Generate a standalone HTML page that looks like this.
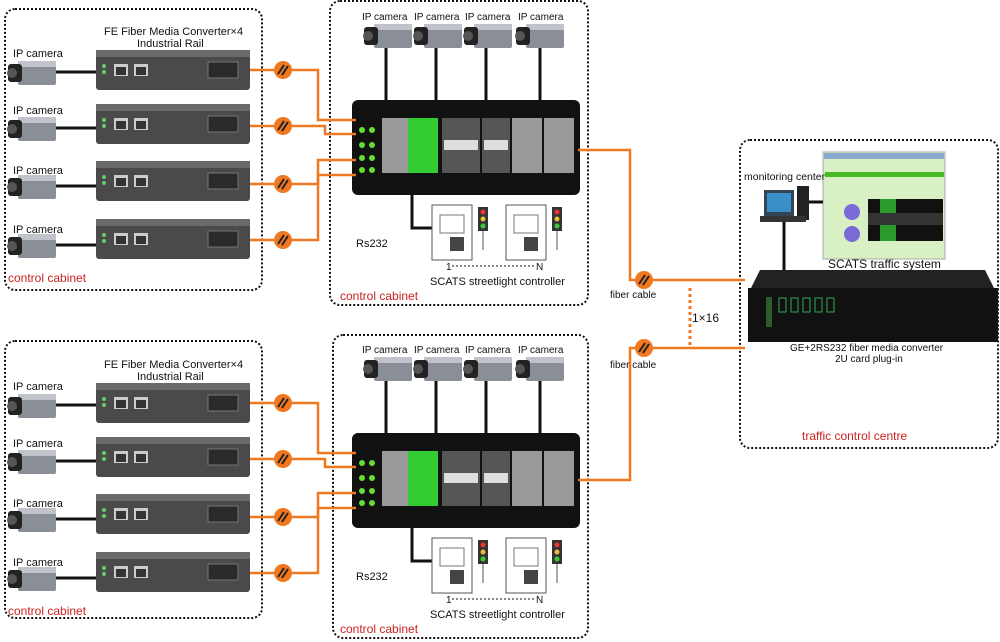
<!DOCTYPE html>
<html><head><meta charset="utf-8"><style>
html,body{margin:0;padding:0;background:#fff;}
svg{display:block;font-family:"Liberation Sans",sans-serif;}
</style></head><body>
<svg width="1000" height="642" viewBox="0 0 1000 642" xmlns="http://www.w3.org/2000/svg">
<defs>
<g id="cam">
 <rect x="10" y="0" width="38" height="24" rx="2" fill="#8a8e96"/>
 <rect x="10" y="0" width="38" height="6" fill="#c0c4ca"/>
 <rect x="0" y="3" width="14" height="18" rx="3" fill="#222"/>
 <circle cx="4" cy="12" r="5" fill="#555"/>
</g>
<g id="conv">
 <rect x="0" y="0" width="154" height="40" rx="3" fill="#4a4a4a"/>
 <rect x="0" y="0" width="154" height="7" fill="#6a6a6a"/>
 <rect x="18" y="14" width="14" height="12" fill="#ccc"/><rect x="38" y="14" width="14" height="12" fill="#ccc"/>
 <rect x="20" y="17" width="10" height="8" fill="#333"/><rect x="40" y="17" width="10" height="8" fill="#333"/>
 <rect x="112" y="12" width="30" height="16" fill="#2a2a2a" stroke="#777"/>
 <circle cx="8" cy="16" r="2" fill="#6c6"/><circle cx="8" cy="22" r="2" fill="#6c6"/>
</g>
<g id="fib">
 <circle cx="0" cy="0" r="9" fill="#f07820"/>
 <path d="M-5 4 L1 -5 M-1 5 L5 -4" stroke="#222" stroke-width="2"/>
</g>
<g id="sw">
 <rect x="0" y="0" width="228" height="95" rx="6" fill="#111"/>
 <rect x="30" y="18" width="26" height="55" fill="#999"/>
 <rect x="56" y="18" width="30" height="55" fill="#3c3"/>
 <rect x="90" y="18" width="38" height="55" fill="#555"/><rect x="130" y="18" width="28" height="55" fill="#555"/>
 <rect x="92" y="40" width="34" height="10" fill="#ddd"/><rect x="132" y="40" width="24" height="10" fill="#ddd"/>
 <rect x="160" y="18" width="30" height="55" fill="#999"/><rect x="192" y="18" width="30" height="55" fill="#999"/>
 <circle cx="10" cy="30" r="3" fill="#6d3"/><circle cx="20" cy="30" r="3" fill="#6d3"/>
 <circle cx="10" cy="45" r="3" fill="#6d3"/><circle cx="20" cy="45" r="3" fill="#6d3"/>
 <circle cx="10" cy="58" r="3" fill="#6d3"/><circle cx="20" cy="58" r="3" fill="#6d3"/>
 <circle cx="10" cy="70" r="3" fill="#6d3"/><circle cx="20" cy="70" r="3" fill="#6d3"/>
</g>
<g id="ctl">
 <rect x="0" y="0" width="40" height="55" fill="#fff" stroke="#555"/>
 <rect x="8" y="10" width="24" height="18" fill="none" stroke="#777"/>
 <rect x="18" y="32" width="14" height="14" fill="#444"/>
 <rect x="46" y="2" width="10" height="24" fill="#333"/>
 <circle cx="51" cy="7" r="2.5" fill="#e33"/><circle cx="51" cy="14" r="2.5" fill="#eb3"/><circle cx="51" cy="21" r="2.5" fill="#3c3"/>
 <path d="M51 26 V45" stroke="#555"/>
</g>
</defs>

<g fill="none" stroke="#111" stroke-width="2" stroke-dasharray="2 2">
 <rect x="5" y="9" width="257" height="281" rx="10"/>
 <rect x="330" y="1" width="258" height="304" rx="10"/>
 <rect x="5" y="341" width="257" height="277" rx="10"/>
 <rect x="333" y="335" width="255" height="303" rx="10"/>
 <rect x="740" y="140" width="258" height="308" rx="10"/>
</g>

<g id="cab">
 <g font-size="11" fill="#111">
  <text x="13" y="57">IP camera</text><text x="13" y="114">IP camera</text>
  <text x="13" y="174">IP camera</text><text x="13" y="233">IP camera</text>
  <text x="104" y="35">FE Fiber Media Converter×4</text><text x="137" y="47">Industrial Rail</text>
  <g font-size="10"><text x="362" y="20">IP camera</text><text x="414" y="20">IP camera</text>
  <text x="465" y="20">IP camera</text><text x="518" y="20">IP camera</text></g>
  <text x="356" y="247">Rs232</text>
  <text x="446" y="270" font-size="10">1</text><text x="536" y="270" font-size="10">N</text>
  <text x="430" y="285">SCATS streetlight controller</text>
 </g>
 <path d="M452 266 H535" stroke="#111" stroke-dasharray="2 2"/>
 <g font-size="12" fill="#c22"><text x="8" y="282">control cabinet</text><text x="340" y="300">control cabinet</text></g>
 <use href="#cam" x="8" y="61"/><use href="#cam" x="8" y="117"/><use href="#cam" x="8" y="175"/><use href="#cam" x="8" y="234"/>
 <use href="#cam" x="364" y="24"/><use href="#cam" x="414" y="24"/><use href="#cam" x="464" y="24"/><use href="#cam" x="516" y="24"/>
 <g stroke="#111" stroke-width="3" fill="none">
  <path d="M56 72 H96 M56 128 H96 M56 186 H96 M56 245 H96"/>
  <path d="M386 48 V100 M436 48 V100 M486 48 V100 M540 48 V100"/>
  <path d="M412 195 V228 H432"/>
 </g>
 <use href="#conv" x="96" y="50"/><use href="#conv" x="96" y="104"/><use href="#conv" x="96" y="161"/><use href="#conv" x="96" y="219"/>
 <use href="#sw" x="352" y="100"/>
 <use href="#ctl" x="432" y="205"/><use href="#ctl" x="506" y="205"/>
 <g stroke="#f07820" stroke-width="2.5" fill="none">
  <path d="M250 70 H318 V120 H356"/>
  <path d="M250 126 H325 V134 H356"/>
  <path d="M250 184 H318 V160 H356"/>
  <path d="M250 240 H318 V175 H356"/>
 </g>
 <use href="#fib" x="283" y="70"/><use href="#fib" x="283" y="126"/><use href="#fib" x="283" y="184"/><use href="#fib" x="283" y="240"/>
</g>
<use href="#cab" x="0" y="333"/>

<g stroke="#f07820" stroke-width="2.5" fill="none">
 <path d="M578 150 H630 V280 H745"/>
 <path d="M578 480 H630 V348 H745"/>
</g>
<path d="M690 288 V345" stroke="#f07820" stroke-width="3" stroke-dasharray="3 3"/>
<use href="#fib" x="644" y="280"/><use href="#fib" x="644" y="348"/>
<g font-size="10" fill="#111"><text x="610" y="298">fiber cable</text><text x="610" y="368">fiber cable</text></g>
<text x="692" y="322" font-size="12" fill="#111">1×16</text>

<rect x="823" y="152" width="122" height="107" fill="#d8f0c4" stroke="#aaa"/>
<rect x="824" y="153" width="120" height="6" fill="#8ac"/>
<rect x="825" y="172" width="119" height="5" fill="#4b2"/>
<rect x="868" y="199" width="75" height="42" fill="#111"/>
<rect x="880" y="199" width="16" height="42" fill="#2a9a2a"/><rect x="868" y="213" width="75" height="12" fill="#333"/>
<circle cx="852" cy="212" r="8" fill="#7a6ad8"/><circle cx="852" cy="234" r="8" fill="#7a6ad8"/>
<rect x="742" y="169" width="80" height="14" fill="#fff"/>
<text x="744" y="180" font-size="10.5" fill="#111">monitoring center</text>
<rect x="764" y="190" width="30" height="26" fill="#345"/>
<rect x="767" y="193" width="24" height="19" fill="#3a8fc8"/>
<rect x="797" y="186" width="12" height="34" fill="#222"/>
<rect x="760" y="216" width="46" height="6" fill="#333"/>
<path d="M809 202 H823 M784 222 V270" stroke="#111" stroke-width="3"/>
<text x="828" y="268" font-size="12" fill="#111">SCATS traffic system</text>
<path d="M760 270 L985 270 L995 290 L750 290 Z" fill="#222"/>
<rect x="748" y="288" width="250" height="54" fill="#111"/>
<g fill="#4a4"><rect x="766" y="297" width="6" height="30" opacity=".5"/></g>
<g fill="none" stroke="#3a5" stroke-width="1">
 <rect x="779" y="298" width="7" height="14"/><rect x="791" y="298" width="7" height="14"/><rect x="803" y="298" width="7" height="14"/><rect x="815" y="298" width="7" height="14"/><rect x="827" y="298" width="7" height="14"/>
</g>
<text x="790" y="351" font-size="10" fill="#111">GE+2RS232 fiber media converter</text>
<text x="835" y="362" font-size="10" fill="#111">2U card plug-in</text>
<text x="802" y="440" font-size="12" fill="#c22">traffic control centre</text>
</svg>
</body></html>
